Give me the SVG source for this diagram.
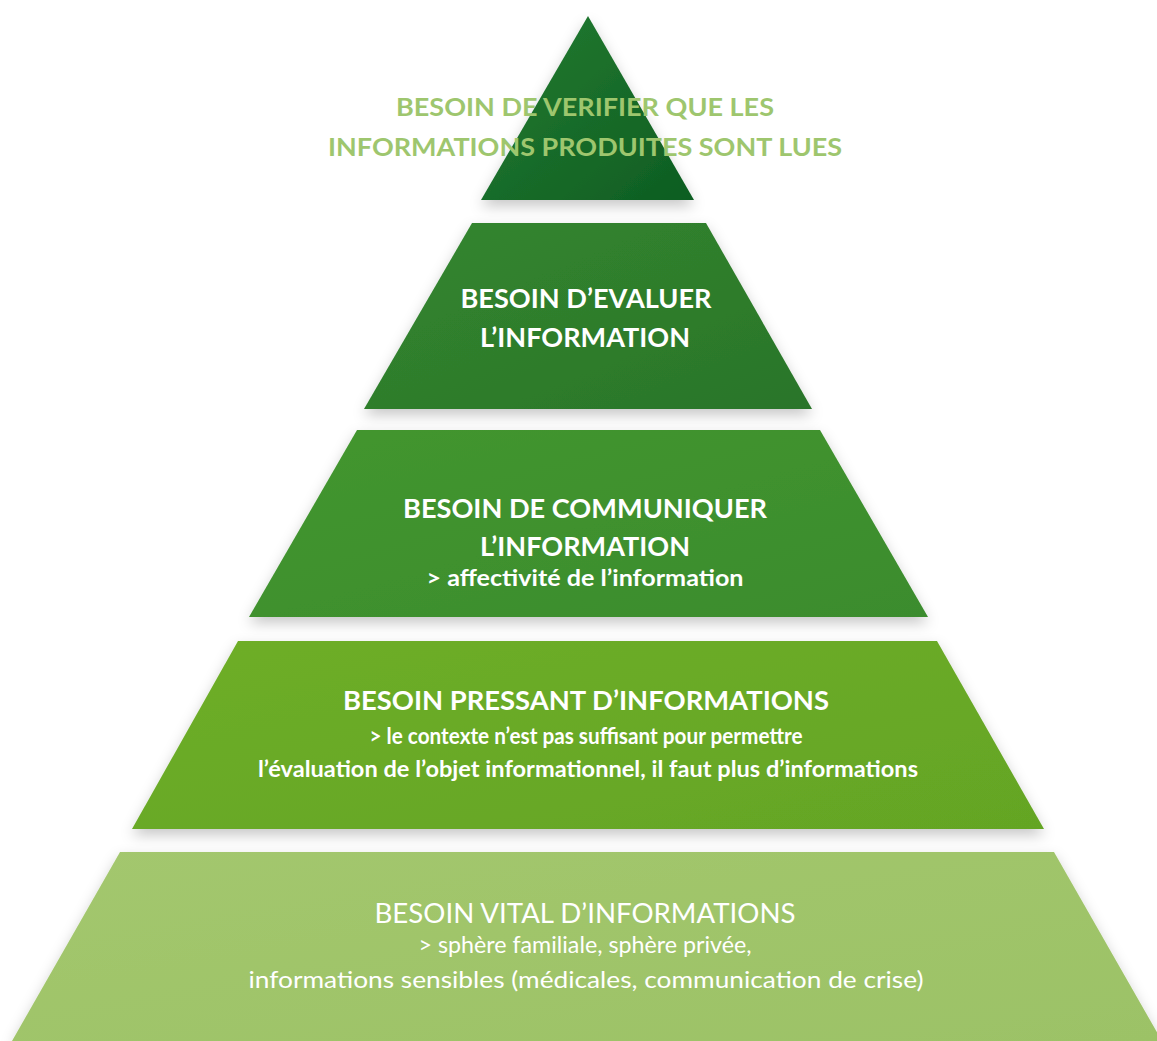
<svg xmlns="http://www.w3.org/2000/svg" width="1157" height="1041" viewBox="0 0 1157 1041">
<defs>
<filter id="sh" x="-10%" y="-10%" width="120%" height="125%">
<feGaussianBlur in="SourceAlpha" stdDeviation="7"/>
<feOffset dx="0" dy="6" result="b"/>
<feFlood flood-color="#000" flood-opacity="0.22"/>
<feComposite in2="b" operator="in"/>
<feMerge><feMergeNode/><feMergeNode in="SourceGraphic"/></feMerge>
</filter>
<linearGradient id="g1" x1="0" y1="0" x2="1" y2="1">
<stop offset="0" stop-color="#257c31"/><stop offset="1" stop-color="#0d5d22"/>
</linearGradient>
<linearGradient id="g2" x1="0" y1="0" x2="1" y2="1">
<stop offset="0" stop-color="#33862f"/><stop offset="1" stop-color="#2a7529"/>
</linearGradient>
<linearGradient id="g3" x1="0" y1="0" x2="1" y2="1">
<stop offset="0" stop-color="#43962f"/><stop offset="1" stop-color="#3b8c2d"/>
</linearGradient>
<linearGradient id="g4" x1="0" y1="0" x2="1" y2="1">
<stop offset="0" stop-color="#6eae28"/><stop offset="1" stop-color="#64a524"/>
</linearGradient>
<linearGradient id="g5" x1="0" y1="0" x2="1" y2="1">
<stop offset="0" stop-color="#a3c76e"/><stop offset="1" stop-color="#9cc266"/>
</linearGradient>
</defs>
<style>
text{font-family:Lato,"Open Sans","Liberation Sans",sans-serif;text-anchor:middle;}
.h{font-weight:700;font-size:27px;fill:#ffffff;}
.s{font-weight:700;font-size:23px;fill:#ffffff;}
.r{font-weight:400;}
.top{font-weight:700;font-size:25px;fill:#9ec66e;}
.lay{filter:url(#sh);}
</style>
<rect width="1157" height="1041" fill="#ffffff"/>
<g id="connectors"></g>
<g id="level5">
<polygon class="lay" points="120,852 1054,852 1162,1041 12,1041" fill="url(#g5)"/>
<text class="h r" x="585" y="923" textLength="421" lengthAdjust="spacingAndGlyphs">BESOIN VITAL D’INFORMATIONS</text>
<text class="s r" x="585" y="953" textLength="333" lengthAdjust="spacingAndGlyphs">&gt; sphère familiale, sphère privée,</text>
<text class="s r" x="586" y="988" textLength="675" lengthAdjust="spacingAndGlyphs">informations sensibles (médicales, communication de crise)</text>
</g>
<g id="level4">
<polygon class="lay" points="238,641 937,641 1044,829 132,829" fill="url(#g4)"/>
<text class="h" x="586" y="710" textLength="486" lengthAdjust="spacingAndGlyphs">BESOIN PRESSANT D’INFORMATIONS</text>
<text class="s" x="586" y="744" textLength="433" lengthAdjust="spacingAndGlyphs">&gt; le contexte n’est pas suffisant pour permettre</text>
<text class="s" x="588" y="777" textLength="660" lengthAdjust="spacingAndGlyphs">l’évaluation de l’objet informationnel, il faut plus d’informations</text>
</g>
<g id="level3">
<polygon class="lay" points="357,430 820,430 928,617 249,617" fill="url(#g3)"/>
<text class="h" x="585" y="518" textLength="364" lengthAdjust="spacingAndGlyphs">BESOIN DE COMMUNIQUER</text>
<text class="h" x="585" y="556" textLength="210" lengthAdjust="spacingAndGlyphs">L’INFORMATION</text>
<text class="s" x="585" y="586" textLength="317" lengthAdjust="spacingAndGlyphs">&gt; affectivité de l’information</text>
</g>
<g id="level2">
<polygon class="lay" points="472,223 706,223 812,409 364,409" fill="url(#g2)"/>
<text class="h" x="586" y="308" textLength="251" lengthAdjust="spacingAndGlyphs">BESOIN D’EVALUER</text>
<text class="h" x="585" y="347" textLength="210" lengthAdjust="spacingAndGlyphs">L’INFORMATION</text>
</g>
<g id="level1">
<polygon class="lay" points="588,16 694,200 481,200" fill="url(#g1)"/>
<text class="top" x="585" y="116" textLength="378" lengthAdjust="spacingAndGlyphs">BESOIN DE VERIFIER QUE LES</text>
<text class="top" x="585" y="156" textLength="514" lengthAdjust="spacingAndGlyphs">INFORMATIONS PRODUITES SONT LUES</text>
</g>
</svg>
